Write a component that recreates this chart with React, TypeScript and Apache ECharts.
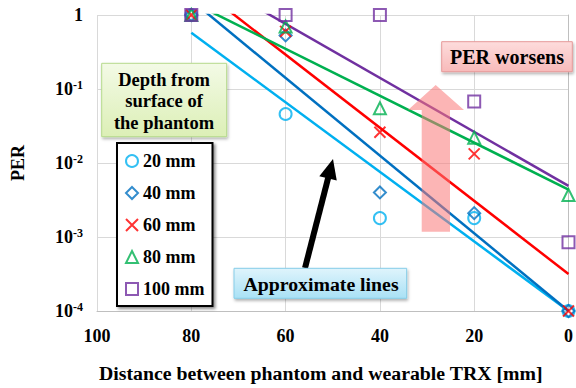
import React, { useEffect, useRef } from "react";
import * as echarts from "echarts";

const distances = [80, 60, 40, 20, 0];
const depthNames = ["20 mm", "40 mm", "60 mm", "80 mm", "100 mm"];
const per20 = [1, 0.046, 0.0018, 0.0018, 0.0001];
const per40 = [1, 0.53, 0.004, 0.0021, 0.0001];
const per60 = [1, 0.6, 0.026, 0.0133, 0.0001];
const per80 = [1, 0.7, 0.055, 0.022, 0.0037];
const per100 = [1, 1, 1, 0.068, 0.00085];
// approximate (exponential) lines: values at distance 80 and 0
const trendX = [80, 0];
const trend20 = [0.575, 0.0001];
const trend40 = [1.585, 0.0001];
const trend60 = [2.83, 0.000316];
const trend80 = [1.5, 0.00437];
const trend100 = [4.07, 0.0049];
const xTicks = [0, 20, 40, 60, 80, 100];

const colors = ["#00B0F0", "#0070C0", "#FF0000", "#00B050", "#7030A0"];
const symbols = [
  "circle",
  "diamond",
  "path://M0,0L10,10M10,0L0,10",
  "triangle",
  "rect",
];
const FONT = '"Liberation Serif", "Times New Roman", serif';

export default function App() {
  const ref = useRef<HTMLDivElement>(null);
  useEffect(() => {
    if (!ref.current) return;
    const chart = echarts.init(ref.current, undefined, { renderer: "svg" });
    const perAll = [per20, per40, per60, per80, per100];
    const trendAll = [trend20, trend40, trend60, trend80, trend100];

    const scatterSeries = perAll.map((arr, i) => ({
      name: depthNames[i],
      type: "scatter",
      symbol: symbols[i],
      symbolSize: i === 2 ? 11 : 12,
      itemStyle: {
        color: "rgba(0,0,0,0)",
        borderColor: colors[i],
        borderWidth: 2,
      },
      data: arr.map((v, j) => [distances[j], v]),
      z: 5,
    }));
    const lineSeries = trendAll.map((arr, i) => ({
      name: depthNames[i] + " approx",
      type: "line",
      showSymbol: false,
      silent: true,
      clip: true,
      lineStyle: { color: colors[i], width: 2.5 },
      data: arr.map((v, j) => [trendX[j], v]),
      z: 3,
    }));

    const tip = [333, 159];
    const tail = [305, 268];
    const dx = tip[0] - tail[0];
    const dy = tip[1] - tail[1];
    const len = Math.sqrt(dx * dx + dy * dy);
    const ux = dx / len;
    const uy = dy / len;
    const headLen = 20;
    const half = 9;
    const bx = tip[0] - ux * headLen;
    const by = tip[1] - uy * headLen;
    const px = -uy;
    const py = ux;

    chart.setOption({
      animation: false,
      grid: { left: 97, right: 4, top: 15, bottom: 71 },
      xAxis: {
        type: "value",
        min: 0,
        max: 100,
        interval: 20,
        inverse: true,
        name: "Distance between phantom and wearable TRX [mm]",
        nameLocation: "middle",
        nameGap: 52,
        nameTextStyle: {
          fontFamily: FONT,
          fontWeight: "bold",
          fontSize: 19.8,
          color: "#000",
          padding: [0, 24, 0, 0],
        },
        axisLine: { show: true, lineStyle: { color: "#BFBFBF" } },
        axisTick: { show: false },
        splitLine: { show: true, lineStyle: { color: "#D9D9D9" } },
        axisLabel: {
          margin: 16,
          fontFamily: FONT,
          fontWeight: "bold",
          fontSize: 18,
          color: "#000",
          formatter: (v: number) => (xTicks.includes(v) ? String(v) : ""),
        },
      },
      yAxis: {
        type: "log",
        logBase: 10,
        min: 0.0001,
        max: 1,
        name: "PER",
        nameLocation: "middle",
        nameGap: 70,
        nameTextStyle: {
          fontFamily: FONT,
          fontWeight: "bold",
          fontSize: 18,
          color: "#000",
        },
        axisLine: { show: true, lineStyle: { color: "#BFBFBF" } },
        axisTick: { show: false },
        splitLine: { show: true, lineStyle: { color: "#D9D9D9" } },
        axisLabel: {
          margin: 14,
          formatter: (v: number) => {
            const e = Math.round(Math.log10(v));
            return e === 0 ? "{b|1}" : `{b|10}{s|${e}}`;
          },
          rich: {
            b: {
              fontFamily: FONT,
              fontWeight: "bold",
              fontSize: 18,
              color: "#000",
            },
            s: {
              fontFamily: FONT,
              fontWeight: "bold",
              fontSize: 12,
              color: "#000",
              verticalAlign: "top",
              padding: [0, 0, 8, 0],
            },
          },
        },
      },
      legend: {
        data: depthNames,
        orient: "vertical",
        left: 117,
        top: 143,
        padding: [9, 8, 8, 8],
        itemGap: 14,
        itemWidth: 12,
        itemHeight: 12,
        backgroundColor: "#fff",
        borderColor: "#000",
        borderWidth: 2,
        borderRadius: 0,
        shadowBlur: 3,
        shadowColor: "rgba(0,0,0,0.45)",
        shadowOffsetX: 2,
        shadowOffsetY: 2,
        textStyle: {
          fontFamily: FONT,
          fontWeight: "bold",
          fontSize: 18,
          color: "#000",
        },
      },
      series: [...lineSeries, ...scatterSeries],
      graphic: [
        {
          type: "rect",
          z: 10,
          shape: { x: 101.7, y: 63.3, width: 125, height: 73.4 },
          style: {
            fill: new echarts.graphic.LinearGradient(0, 0, 0, 1, [
              { offset: 0, color: "#F3FAE6" },
              { offset: 1, color: "#DCEFB6" },
            ]),
            stroke: "#B6DA8C",
            lineWidth: 1,
            shadowBlur: 3,
            shadowColor: "rgba(0,0,0,0.3)",
            shadowOffsetX: 1,
            shadowOffsetY: 2,
          },
        },
        {
          type: "text",
          z: 11,
          x: 164,
          y: 101,
          style: {
            text: "Depth from\nsurface of\nthe phantom",
            font: `bold 18.5px ${FONT}`,
            fill: "#000",
            align: "center",
            verticalAlign: "middle",
            lineHeight: 21.5,
          },
        },
        {
          type: "rect",
          z: 10,
          shape: { x: 441.7, y: 41.7, width: 130.6, height: 30 },
          style: {
            fill: new echarts.graphic.LinearGradient(0, 0, 0, 1, [
              { offset: 0, color: "#FDDCDC" },
              { offset: 1, color: "#F8BABA" },
            ]),
            stroke: "#E79A9A",
            lineWidth: 1,
            shadowBlur: 3,
            shadowColor: "rgba(0,0,0,0.3)",
            shadowOffsetX: 1,
            shadowOffsetY: 2,
          },
        },
        {
          type: "text",
          z: 11,
          x: 507,
          y: 57,
          style: {
            text: "PER worsens",
            font: `bold 20px ${FONT}`,
            fill: "#000",
            align: "center",
            verticalAlign: "middle",
          },
        },
        {
          type: "rect",
          z: 10,
          shape: { x: 234, y: 268.3, width: 172.7, height: 30 },
          style: {
            fill: new echarts.graphic.LinearGradient(0, 0, 0, 1, [
              { offset: 0, color: "#DFF4FC" },
              { offset: 1, color: "#A9E1F5" },
            ]),
            stroke: "#86CDE8",
            lineWidth: 1,
            shadowBlur: 3,
            shadowColor: "rgba(0,0,0,0.3)",
            shadowOffsetX: 1,
            shadowOffsetY: 2,
          },
        },
        {
          type: "text",
          z: 11,
          x: 321,
          y: 284,
          style: {
            text: "Approximate lines",
            font: `bold 19.8px ${FONT}`,
            fill: "#000",
            align: "center",
            verticalAlign: "middle",
          },
        },
        {
          type: "polygon",
          z: 9,
          shape: {
            points: [
              [421.7, 231.7],
              [450, 231.7],
              [450, 110],
              [464, 110],
              [435.7, 85],
              [408, 110],
              [421.7, 110],
            ],
          },
          style: { fill: "rgba(250,120,120,0.55)" },
        },
        {
          type: "line",
          z: 9,
          shape: { x1: tail[0], y1: tail[1], x2: bx + ux * 2, y2: by + uy * 2 },
          style: { stroke: "#000", lineWidth: 6 },
        },
        {
          type: "polygon",
          z: 9,
          shape: {
            points: [
              [tip[0], tip[1]],
              [bx + px * half, by + py * half],
              [bx - px * half, by - py * half],
            ],
          },
          style: { fill: "#000" },
        },
      ],
    });
    return () => chart.dispose();
  }, []);
  return (
    <div
      ref={ref}
      style={{ position: "fixed", left: 0, top: 0, width: 576, height: 388, background: "#fff" }}
    />
  );
}
